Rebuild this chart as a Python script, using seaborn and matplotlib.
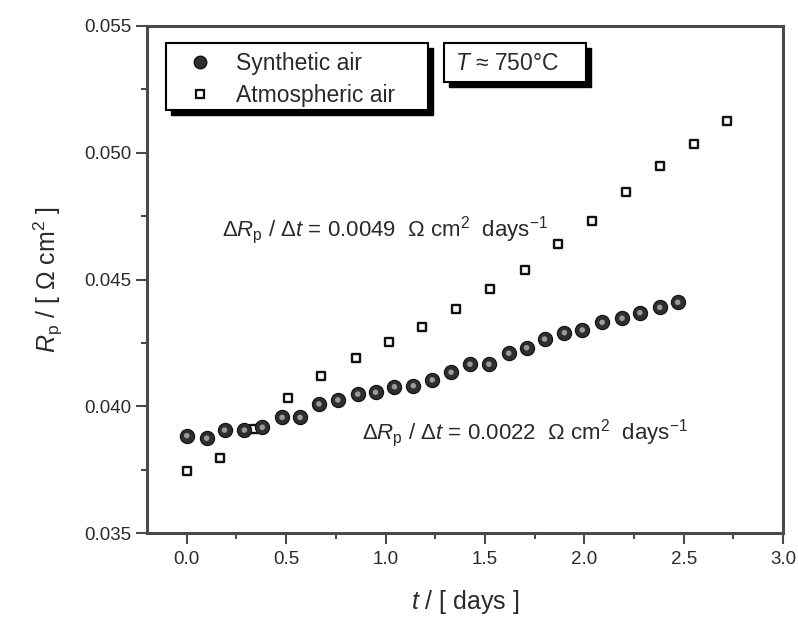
import matplotlib
matplotlib.use("Agg")
import matplotlib.pyplot as plt
from matplotlib.patches import Rectangle
from matplotlib.lines import Line2D
import seaborn as sns
import pandas as pd

# ---- data ----
t_synth = [0.0, 0.10, 0.19, 0.29, 0.38, 0.48, 0.57, 0.665, 0.76, 0.86, 0.95, 1.045,
           1.14, 1.235, 1.33, 1.425, 1.52, 1.62, 1.71, 1.80, 1.90, 1.99, 2.09, 2.19,
           2.28, 2.38, 2.47]
r_synth = [0.03884, 0.03874, 0.03906, 0.03906, 0.03917, 0.03956, 0.03956, 0.04009,
           0.04025, 0.04048, 0.04055, 0.04077, 0.04081, 0.04104, 0.04134, 0.04166,
           0.04166, 0.04209, 0.04231, 0.04265, 0.04290, 0.04301, 0.04331, 0.04347,
           0.04369, 0.04390, 0.04410]
t_atm = [0.0, 0.165, 0.34, 0.51, 0.675, 0.85, 1.02, 1.185, 1.357, 1.528, 1.70, 1.87,
         2.04, 2.21, 2.38, 2.55, 2.72]
r_atm = [0.03745, 0.03795, 0.0391, 0.04034, 0.04118, 0.04189, 0.04252, 0.04314,
         0.04382, 0.04463, 0.04537, 0.04640, 0.04732, 0.04844, 0.04949, 0.05033,
         0.05125]
series_names = ["Synthetic air", "Atmospheric air"]
x_ticks = [0.0, 0.5, 1.0, 1.5, 2.0, 2.5, 3.0]
y_ticks = [0.035, 0.040, 0.045, 0.050, 0.055]
slope_labels = ["0.0049", "0.0022"]

sns.set_theme(style="ticks")
plt.rcParams["font.family"] = ["Liberation Sans", "DejaVu Sans"]
plt.rcParams["mathtext.fontset"] = "custom"
plt.rcParams["mathtext.rm"] = "Liberation Sans"
plt.rcParams["mathtext.it"] = "Liberation Sans:italic"
plt.rcParams["mathtext.bf"] = "Liberation Sans:bold"

TXT = "#2a2a2a"
SP = "#4a4a4a"

fig = plt.figure(figsize=(7.98, 6.2), dpi=100)
ax = fig.add_axes([147 / 798, 1 - 533 / 620, 636 / 798, 507 / 620])

df_s = pd.DataFrame({"t": t_synth, "R": r_synth})
df_a = pd.DataFrame({"t": t_atm, "R": r_atm})

sns.scatterplot(data=df_a, x="t", y="R", ax=ax, marker="s", s=36,
                facecolor="white", edgecolor="#111111", linewidth=1.7, zorder=3)
sns.scatterplot(data=df_s, x="t", y="R", ax=ax, marker="o", s=105,
                color="#2e2e2e", edgecolor="#111111", linewidth=0.8, zorder=4)
# highlight to mimic shaded spheres
sns.scatterplot(data=df_s, x="t", y="R", ax=ax, marker="o", s=16,
                color="#9a9a9a", edgecolor="none", linewidth=0, zorder=5)

ax.set_xlim(-0.2, 3.0)
ax.set_ylim(0.035, 0.055)
ax.set_xticks(x_ticks)
ax.set_xticklabels([f"{v:.1f}" for v in x_ticks])
ax.set_yticks(y_ticks)
ax.set_yticklabels([f"{v:.3f}" for v in y_ticks])
ax.set_xticks([0.25, 0.75, 1.25, 1.75, 2.25, 2.75], minor=True)
ax.set_yticks([0.0375, 0.0425, 0.0475, 0.0525], minor=True)
ax.tick_params(which="major", direction="out", length=8, width=1.5, color=SP,
               labelsize=13.5, labelcolor=TXT, pad=5)
ax.tick_params(axis="y", which="major", pad=3)
ax.tick_params(which="minor", direction="out", length=4.5, width=1.5, color=SP)
ax.tick_params(top=False, right=False, which="both")
for s in ax.spines.values():
    s.set_visible(True)
    s.set_color(SP)
    s.set_linewidth(2.2)

ax.set_xlabel(r"$t$ / [ days ]", fontsize=18, color=TXT, labelpad=14)
ax.set_ylabel(r"$R_{\rm p}$ / [ $\Omega$ cm$^2$ ]", fontsize=18, color=TXT, labelpad=14)

def px2ax(x, y):
    return ((x - 147) / 636, (533 - y) / 507)

def shadow_box(x0, y0, x1, y1):
    a0 = px2ax(x0, y1)
    a1 = px2ax(x1, y0)
    w, h = a1[0] - a0[0], a1[1] - a0[1]
    dx, dy = 5 / 636, -5 / 507
    ax.add_patch(Rectangle((a0[0] + dx, a0[1] + dy), w, h, transform=ax.transAxes,
                           facecolor="black", edgecolor="black", zorder=6, clip_on=False))
    ax.add_patch(Rectangle(a0, w, h, transform=ax.transAxes, facecolor="white",
                           edgecolor="black", linewidth=1.5, zorder=7, clip_on=False))

shadow_box(166, 43, 428, 110)
shadow_box(444, 43, 586, 82)

handles = [
    Line2D([], [], marker="o", linestyle="none", markersize=9, markerfacecolor="#2e2e2e",
           markeredgecolor="#111111"),
    Line2D([], [], marker="s", linestyle="none", markersize=6, markerfacecolor="white",
           markeredgecolor="#111111", markeredgewidth=1.6),
]
lx, ly = px2ax(172, 47)
leg = ax.legend(handles, series_names, loc="upper left", bbox_to_anchor=(lx, ly),
                bbox_transform=ax.transAxes, frameon=False, fontsize=16.5,
                handletextpad=0.6, labelspacing=0.4, borderaxespad=0, borderpad=0.2,
                labelcolor=TXT)
leg.set_zorder(8)

tx, ty = px2ax(507, 63)
ax.text(tx, ty, r"$T$ ≈ 750°C", transform=ax.transAxes, fontsize=16.5, color=TXT,
        ha="center", va="center", zorder=8)

ax1x, ax1y = px2ax(222, 230)
ax.text(ax1x, ax1y,
        r"$\Delta R_{\rm p}$ / $\Delta t$ = " + slope_labels[0] + r"  $\Omega$ cm$^2$  days$^{-1}$",
        transform=ax.transAxes, fontsize=16, color=TXT, ha="left", va="center", zorder=8)
ax2x, ax2y = px2ax(362, 433)
ax.text(ax2x, ax2y,
        r"$\Delta R_{\rm p}$ / $\Delta t$ = " + slope_labels[1] + r"  $\Omega$ cm$^2$  days$^{-1}$",
        transform=ax.transAxes, fontsize=16, color=TXT, ha="left", va="center", zorder=8)

fig.savefig("out.png", dpi=100)
